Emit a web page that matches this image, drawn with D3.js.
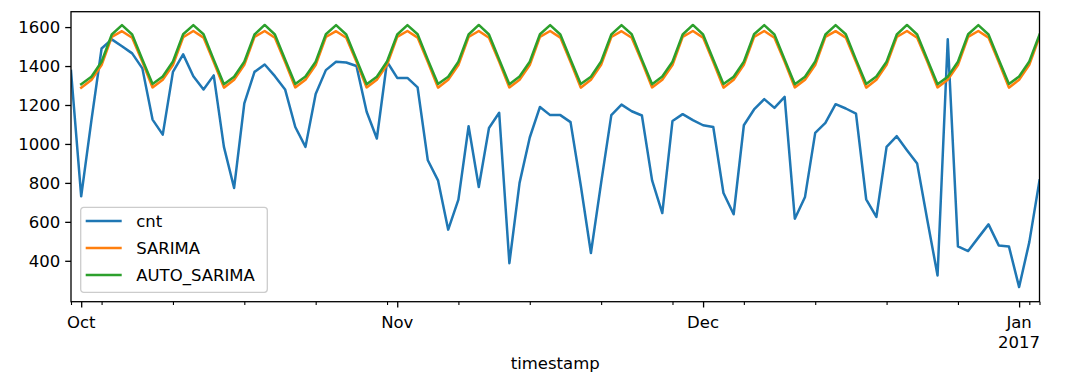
<!DOCTYPE html>
<html>
<head>
<meta charset="utf-8">
<script src="https://cdn.jsdelivr.net/npm/d3@7"></script>
<style>
  body { margin: 0; background: #fff; }
  svg { display: block; font-family: "DejaVu Sans", sans-serif; }
</style>
</head>
<body>
<div id="chart"></div>
<script>
// daily data, 2016-09-30 .. 2017-01-03
var startDate = Date.UTC(2016, 8, 30);

var cnt = [1375, 731, 1120, 1490, 1537, 1502, 1465, 1388, 1125, 1048,
  1370, 1460, 1348, 1280, 1352, 985, 774, 1208, 1370, 1408,
  1348, 1280, 1087, 985, 1256, 1379, 1422, 1418, 1400, 1165,
  1028, 1422, 1339, 1339, 1290, 916, 813, 560, 714, 1091,
  779, 1082, 1160, 388, 800, 1033, 1190, 1148, 1148, 1112,
  788, 440, 800, 1148, 1202, 1168, 1146, 813, 645, 1118,
  1153, 1122, 1096, 1087, 748, 639, 1096, 1177, 1230, 1185,
  1242, 616, 728, 1057, 1108, 1204, 1182, 1156, 716, 625,
  985, 1040, 968, 899, 608, 325, 1537, 474, 450, 519,
  587, 479, 474, 265, 496, 813];

// forecasts start one day later (2016-10-01)
var sarima = [1288, 1328, 1405, 1550, 1579, 1545, 1422,
  1290, 1330, 1405, 1548, 1580, 1546, 1420,
  1289, 1330, 1406, 1550, 1580, 1545, 1421,
  1290, 1329, 1405, 1549, 1579, 1545, 1422,
  1290, 1330, 1406, 1550, 1580, 1546, 1421,
  1289, 1329, 1405, 1549, 1580, 1545, 1422,
  1290, 1330, 1405, 1550, 1580, 1546, 1421,
  1289, 1330, 1406, 1549, 1579, 1545, 1422,
  1290, 1329, 1405, 1550, 1580, 1546, 1421,
  1289, 1330, 1406, 1549, 1580, 1545, 1422,
  1290, 1330, 1405, 1550, 1579, 1546, 1421,
  1289, 1329, 1406, 1549, 1580, 1545, 1422,
  1290, 1330, 1405, 1550, 1580, 1546, 1421,
  1289, 1330, 1406, 1550];

var autoSarima = [1307, 1345, 1422, 1562, 1610, 1562, 1434,
  1308, 1346, 1423, 1563, 1610, 1563, 1433,
  1307, 1345, 1422, 1562, 1611, 1562, 1434,
  1308, 1346, 1422, 1563, 1610, 1562, 1434,
  1307, 1345, 1423, 1562, 1610, 1563, 1433,
  1308, 1345, 1422, 1562, 1611, 1562, 1434,
  1307, 1346, 1422, 1563, 1610, 1562, 1434,
  1308, 1345, 1423, 1562, 1610, 1563, 1433,
  1307, 1346, 1422, 1562, 1611, 1562, 1434,
  1308, 1345, 1422, 1563, 1610, 1562, 1434,
  1307, 1345, 1423, 1562, 1610, 1563, 1433,
  1308, 1346, 1422, 1562, 1611, 1562, 1434,
  1307, 1345, 1422, 1563, 1610, 1562, 1434,
  1308, 1346, 1423, 1562];

var seriesNames = ["cnt", "SARIMA", "AUTO_SARIMA"];
var colors = ["#1f77b4", "#ff7f0e", "#2ca02c"];
var yTicks = [400, 600, 800, 1000, 1200, 1400, 1600];
var monthTicks = [Date.UTC(2016, 9, 1), Date.UTC(2016, 10, 1), Date.UTC(2016, 11, 1), Date.UTC(2017, 0, 1)];
var monthLabels = [["Oct"], ["Nov"], ["Dec"], ["Jan", "2017"]];

var DAY = 86400000;
function dayDate(i, offset) { return new Date(startDate + (i + offset) * DAY); }

var svgWidth = 1066, svgHeight = 387;
var plotLeft = 71, plotRight = 1039.5, plotTop = 11.7, plotBottom = 301.7;

var svg = d3.select("#chart").append("svg")
  .attr("width", svgWidth)
  .attr("height", svgHeight);

var x = d3.scaleUtc()
  .domain([new Date(startDate), dayDate(cnt.length - 1, 0)])
  .range([plotLeft, plotRight]);

var y = d3.scaleLinear()
  .domain([190, 1679])
  .range([plotBottom, plotTop]);

var lineGen = d3.line()
  .x(d => x(d[0]))
  .y(d => y(d[1]));

var cntPts = cnt.map((v, i) => [dayDate(i, 0), v]);
var sarPts = sarima.map((v, i) => [dayDate(i, 1), v]);
var autoPts = autoSarima.map((v, i) => [dayDate(i, 1), v]);

svg.append("clipPath").attr("id", "clip")
  .append("rect").attr("x", plotLeft).attr("y", plotTop)
  .attr("width", plotRight - plotLeft).attr("height", plotBottom - plotTop);

var lines = svg.append("g").attr("clip-path", "url(#clip)");
[cntPts, sarPts, autoPts].forEach(function(pts, k) {
  lines.append("path")
    .datum(pts)
    .attr("d", lineGen)
    .attr("fill", "none")
    .attr("stroke", colors[k])
    .attr("stroke-width", 2.5)
    .attr("stroke-linejoin", "round")
    .attr("stroke-linecap", "square");
});

// y axis
var yAxis = svg.append("g")
  .attr("transform", `translate(${plotLeft},0)`)
  .call(d3.axisLeft(y).tickValues(yTicks).tickSize(5.8).tickPadding(5).tickFormat(d3.format("d")));
yAxis.select(".domain").remove();
yAxis.selectAll("line").attr("stroke", "#000").attr("stroke-width", 1.3);
yAxis.selectAll("text").attr("font-size", "16.5px").attr("fill", "#000")
  .attr("font-family", "DejaVu Sans");

// x axis minor ticks (Mondays + ends)
var minorTicks = [new Date(startDate)];
for (var i = 0; i < cnt.length; i++) {
  var d = dayDate(i, 0);
  if (d.getUTCDay() === 1) minorTicks.push(d);
}
minorTicks.push(dayDate(cnt.length - 1, 0));

var xMinor = svg.append("g")
  .attr("transform", `translate(0,${plotBottom})`)
  .call(d3.axisBottom(x).tickValues(minorTicks).tickSize(3.3).tickFormat(""));
xMinor.select(".domain").remove();
xMinor.selectAll("line").attr("stroke", "#000").attr("stroke-width", 1.1);

var xMajor = svg.append("g")
  .attr("transform", `translate(0,${plotBottom})`)
  .call(d3.axisBottom(x).tickValues(monthTicks.map(t => new Date(t))).tickSize(5.8).tickFormat(""));
xMajor.select(".domain").remove();
xMajor.selectAll("line").attr("stroke", "#000").attr("stroke-width", 1.3);

monthTicks.forEach(function(t, k) {
  monthLabels[k].forEach(function(txt, j) {
    svg.append("text")
      .attr("x", x(new Date(t)))
      .attr("y", 328 + j * 20)
      .attr("text-anchor", "middle")
      .attr("font-size", "16.5px")
      .attr("fill", "#000")
      .text(txt);
  });
});

svg.append("text")
  .attr("x", (plotLeft + plotRight) / 2)
  .attr("y", 369)
  .attr("text-anchor", "middle")
  .attr("font-size", "16.5px")
  .attr("fill", "#000")
  .text("timestamp");

// frame
svg.append("rect")
  .attr("x", plotLeft).attr("y", plotTop)
  .attr("width", plotRight - plotLeft).attr("height", plotBottom - plotTop)
  .attr("fill", "none")
  .attr("stroke", "#000")
  .attr("stroke-width", 1.3);

// legend
var legend = svg.append("g").attr("transform", "translate(80.7,207.3)");
legend.append("rect")
  .attr("width", 186.6).attr("height", 85)
  .attr("rx", 3).attr("ry", 3)
  .attr("fill", "#fff").attr("fill-opacity", 0.8)
  .attr("stroke", "#cccccc").attr("stroke-width", 1.3);
seriesNames.forEach(function(name, k) {
  var ly = 13.7 + k * 27;
  legend.append("line")
    .attr("x1", 5).attr("x2", 41)
    .attr("y1", ly).attr("y2", ly)
    .attr("stroke", colors[k]).attr("stroke-width", 2.5);
  legend.append("text")
    .attr("x", 55.5).attr("y", ly)
    .attr("dy", "0.36em")
    .attr("font-size", "16.5px")
    .attr("fill", "#000")
    .text(name);
});
</script>
</body>
</html>
